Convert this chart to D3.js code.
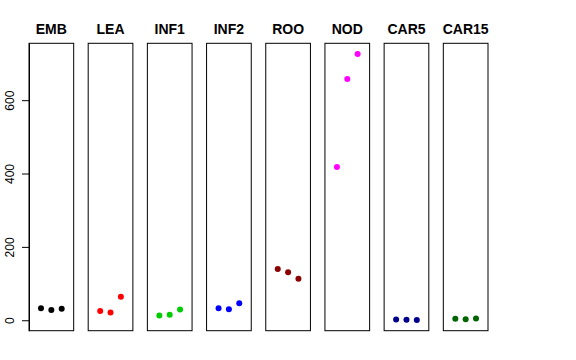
<!DOCTYPE html>
<html>
<head>
<meta charset="utf-8">
<script src="https://cdn.jsdelivr.net/npm/d3@7"></script>
<style>
  body { margin: 0; background: #fff; }
  svg text { font-family: "Liberation Sans", Helvetica, Arial, sans-serif; }
</style>
</head>
<body>
<div id="chart"></div>
<script>
// tissues and their replicate values
const tissues = ["EMB", "LEA", "INF1", "INF2", "ROO", "NOD", "CAR5", "CAR15"];
const colors  = ["#000000", "#FF0000", "#00CD00", "#0000FF", "#8B0000", "#FF00FF", "#00008B", "#006400"];
const rep1 = [33, 25, 13, 33, 140, 418, 2, 4];
const rep2 = [28, 21, 15, 30, 131, 658, 1, 3];
const rep3 = [31, 64, 29, 46, 113, 726, 0.5, 4.5];
const yTicks = [0, 200, 400, 600];

const W = 576, H = 360;
const plotTop = 43.3, plotBottom = 330.7;

const svg = d3.select("#chart").append("svg")
	.attr("width", W)
	.attr("height", H);

// shared y scale, R style 4% padding
let all = rep1.concat(rep2, rep3);
let lo = d3.min(all), hi = d3.max(all);
let pad = (hi - lo) * 0.04;
const yScale = d3.scaleLinear().domain([lo - pad, hi + pad]).range([plotBottom, plotTop]);

const panel = d3.scaleBand().domain(tissues).range([29, 488]).paddingInner(0.245).paddingOuter(0);

tissues.forEach(function(t, i) {
	let x0 = panel(t);
	let bw = panel.bandwidth();
	let xScale = d3.scaleLinear().domain([-0.16, 4.16]).range([x0, x0 + bw]);
	let g = svg.append("g");

	g.append("rect")
		.attr("x", x0)
		.attr("y", plotTop)
		.attr("width", bw)
		.attr("height", plotBottom - plotTop)
		.attr("fill", "none")
		.attr("stroke", "#000")
		.attr("stroke-width", 1);

	g.append("text")
		.attr("x", x0 + bw / 2)
		.attr("y", 34)
		.attr("text-anchor", "middle")
		.style("font-size", "14px")
		.style("font-weight", "bold")
		.text(t);

	let pts = [rep1[i], rep2[i], rep3[i]];
	g.selectAll("circle")
		.data(pts)
		.enter().append("circle")
		.attr("cx", function(d, j) { return xScale(j + 1); })
		.attr("cy", function(d) { return yScale(d); })
		.attr("r", 3)
		.attr("fill", colors[i]);
});

// y axis on the first panel
let yAxis = svg.append("g")
	.attr("transform", "translate(29,0)")
	.call(d3.axisLeft(yScale).tickValues(yTicks).tickSize(7).tickSizeOuter(0));
yAxis.select(".domain").attr("stroke", "#000");
yAxis.selectAll(".tick line").attr("stroke", "#000");
yAxis.selectAll(".tick text")
	.attr("x", 0)
	.attr("dy", 0)
	.attr("text-anchor", "middle")
	.attr("transform", "translate(-15,0) rotate(-90)")
	.style("font-size", "12px")
	.style("font-family", "Liberation Sans, Helvetica, Arial, sans-serif")
	.attr("fill", "#000");
</script>
</body>
</html>
